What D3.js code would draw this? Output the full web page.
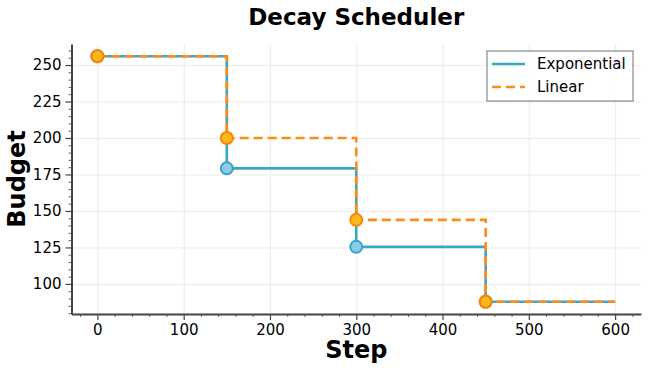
<!DOCTYPE html>
<html>
<head>
<meta charset="utf-8">
<script src="https://cdn.jsdelivr.net/npm/d3@7"></script>
<style>
  body { margin: 0; background: #fff; }
  text { font-family: "DejaVu Sans", sans-serif; }
  .grid line { stroke: #e6e6e6; stroke-width: 0.8; }
  .grid path { display: none; }
  .axis path, .axis line { stroke: #444; }
  .axis text { font-size: 15px; fill: #000; }
</style>
</head>
<body>
<svg id="chart" width="648" height="371"></svg>
<script>
// step positions where the budget changes, and the last step
const steps = [0, 150, 300, 450];
const lastStep = 600;
const exponential = [256, 179.2, 125.4, 87.8];
const linear = [256, 200, 143.9, 87.8];
const xTicks = [0, 100, 200, 300, 400, 500, 600];
const yTicks = [100, 125, 150, 175, 200, 225, 250];
const seriesNames = ["Exponential", "Linear"];

const svg = d3.select("#chart");
const margin = { top: 44, right: 7, bottom: 57, left: 71.5 };
const width = 648, height = 371;
const innerWidth = width - margin.left - margin.right;
const innerHeight = height - margin.top - margin.bottom;

const g = svg.append("g")
  .attr("transform", `translate(${margin.left},${margin.top})`);

// matplotlib-like 5% margins
const xPad = (lastStep - steps[0]) * 0.05;
const allY = exponential.concat(linear);
const yMin = d3.min(allY), yMax = d3.max(allY);
const yPad = (yMax - yMin) * 0.05;

const xScale = d3.scaleLinear()
  .domain([steps[0] - xPad, lastStep + xPad])
  .range([0, innerWidth]);
const yScale = d3.scaleLinear()
  .domain([yMin - yPad, yMax + yPad])
  .range([innerHeight, 0]);

// drop the empty labels on helper axes
const noText = a => a.selectAll("text").remove();

// grid
g.append("g").attr("class", "grid")
  .attr("transform", `translate(0,${innerHeight})`)
  .call(d3.axisBottom(xScale).tickValues(xTicks).tickSize(-innerHeight))
  .call(noText);
g.append("g").attr("class", "grid")
  .call(d3.axisLeft(yScale).tickValues(yTicks).tickSize(-innerWidth))
  .call(noText);

// minor ticks
const xMinor = d3.range(-20, 630, 20).filter(v => v % 100 !== 0);
const yMinor = d3.range(80, 265, 5).filter(v => v % 25 !== 0);
g.append("g").attr("class", "axis")
  .attr("transform", `translate(0,${innerHeight})`)
  .call(d3.axisBottom(xScale).tickValues(xMinor).tickSize(3))
  .call(noText)
  .call(a => a.select("path").remove())
  .selectAll("line").attr("stroke-width", 0.8);
g.append("g").attr("class", "axis")
  .call(d3.axisLeft(yScale).tickValues(yMinor).tickSize(3))
  .call(noText)
  .call(a => a.select("path").remove())
  .selectAll("line").attr("stroke-width", 0.8);

// major axes
const xAxisG = g.append("g").attr("class", "axis")
  .attr("transform", `translate(0,${innerHeight})`)
  .call(d3.axisBottom(xScale).tickValues(xTicks).tickSize(6).tickPadding(4).tickSizeOuter(0));
xAxisG.select("path").attr("stroke-width", 2);
xAxisG.selectAll(".tick line").attr("stroke-width", 1.2);

const yAxisG = g.append("g").attr("class", "axis")
  .call(d3.axisLeft(yScale).tickValues(yTicks).tickSize(6).tickPadding(4).tickSizeOuter(0));
yAxisG.select("path").attr("stroke-width", 2);
yAxisG.selectAll(".tick line").attr("stroke-width", 1.2);

// series
const toPoints = vals => {
  const pts = steps.map((s, i) => [s, vals[i]]);
  pts.push([lastStep, vals[vals.length - 1]]);
  return pts;
};
const line = d3.line()
  .x(d => xScale(d[0]))
  .y(d => yScale(d[1]))
  .curve(d3.curveStepAfter);

const series = [
  { name: seriesNames[0], values: exponential, color: "#37a7c8", fill: "#8ecae6", edge: "#33a3c6", dash: null },
  { name: seriesNames[1], values: linear, color: "#fb8c17", fill: "#ffb71c", edge: "#fb8500", dash: "9,5" }
];

series.forEach(s => {
  g.append("path")
    .datum(toPoints(s.values))
    .attr("fill", "none")
    .attr("stroke", s.color)
    .attr("stroke-width", 2.6)
    .attr("stroke-dasharray", s.dash)
    .attr("d", line);
});
series.forEach(s => {
  g.selectAll(null)
    .data(steps.map((st, i) => [st, s.values[i]]))
    .enter()
    .append("circle")
    .attr("cx", d => xScale(d[0]))
    .attr("cy", d => yScale(d[1]))
    .attr("r", 6)
    .attr("fill", s.fill)
    .attr("stroke", s.edge)
    .attr("stroke-width", 2);
});

// legend
const legend = svg.append("g").attr("transform", "translate(487,51)");
legend.append("rect")
  .attr("width", 146).attr("height", 50)
  .attr("fill", "#fff").attr("fill-opacity", 0.9)
  .attr("stroke", "#888").attr("stroke-width", 1.2);
series.forEach((s, i) => {
  const y = 13 + i * 23;
  legend.append("line")
    .attr("x1", 5).attr("x2", 38).attr("y1", y).attr("y2", y)
    .attr("stroke", s.color).attr("stroke-width", 2.6)
    .attr("stroke-dasharray", s.dash);
  legend.append("text")
    .attr("x", 50).attr("y", y + 5)
    .attr("font-size", 15)
    .text(s.name);
});

// title & labels
svg.append("text")
  .attr("x", margin.left + innerWidth / 2).attr("y", 25)
  .attr("text-anchor", "middle")
  .attr("font-size", 23).attr("font-weight", "bold")
  .text("Decay Scheduler");
svg.append("text")
  .attr("x", margin.left + innerWidth / 2).attr("y", 358)
  .attr("text-anchor", "middle")
  .attr("font-size", 24).attr("font-weight", "bold")
  .text("Step");
svg.append("text")
  .attr("transform", `translate(25,${margin.top + innerHeight / 2}) rotate(-90)`)
  .attr("text-anchor", "middle")
  .attr("font-size", 24).attr("font-weight", "bold")
  .text("Budget");
</script>
</body>
</html>
